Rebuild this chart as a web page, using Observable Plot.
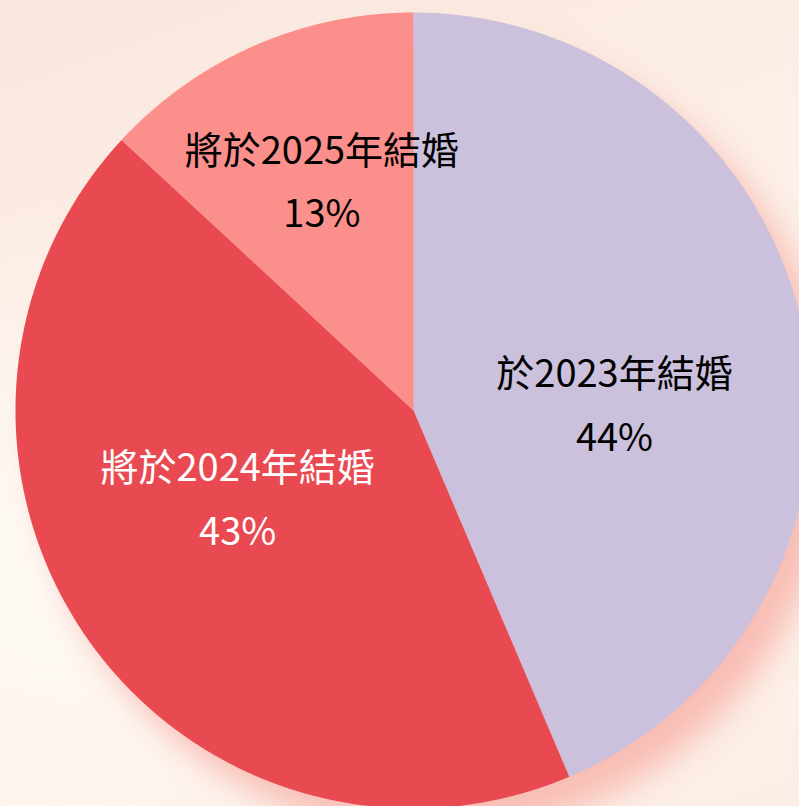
<!DOCTYPE html>
<html>
<head>
<meta charset="utf-8">
<script src="https://cdn.jsdelivr.net/npm/d3@7"></script>
<script src="https://cdn.jsdelivr.net/npm/@observablehq/plot@0.6"></script>
<style>
  html, body { margin: 0; padding: 0; overflow: hidden; }
  body {
    width: 799px; height: 806px;
    background:
      radial-gradient(ellipse at 10% 70%, rgba(255,251,247,0.9) 0%, rgba(255,251,247,0) 45%),
      linear-gradient(160deg, #FAE7DD 0%, #FCEFE7 35%, #FDF2EA 70%, #FCEEE6 100%);
  }
  #chart svg { display: block; background: transparent; }
</style>
</head>
<body>
<div id="chart"></div>
<script>
// ---- data ----
const categories = ["於2023年結婚", "將於2024年結婚", "將於2025年結婚"];
const shares = [43.6, 43.3, 13.1];
const sliceColors = ["#CBC1DC", "#E94A51", "#FB8F8B"];
const labelColors = ["#000000", "#FFFFFF", "#000000"];

// ---- layout config (not data) ----
const W = 799, H = 806;
const CX = 413, CY = 410, R = 398;
const labelNudge = [[6, -28], [-13, 32], [-12, 53]]; // pixel nudges (x right, y up)

const arcs = d3.pie().sort(null).value(d => d)(shares);

// slice polygons computed from pie angles
const slicePts = [];
arcs.forEach((a, i) => {
  const n = Math.max(8, Math.ceil((a.endAngle - a.startAngle) / (Math.PI / 720)));
  slicePts.push({k: i, x: 0, y: 0, c: sliceColors[i]});
  for (let j = 0; j <= n; j++) {
    const t = a.startAngle + (a.endAngle - a.startAngle) * j / n;
    slicePts.push({k: i, x: R * Math.sin(t), y: R * Math.cos(t), c: sliceColors[i]});
  }
  slicePts.push({k: i, x: 0, y: 0, c: sliceColors[i]});
});

const labels = arcs.map((a, i) => {
  const m = (a.startAngle + a.endAngle) / 2;
  return {
    x: (R / 2) * Math.sin(m) + labelNudge[i][0],
    y: (R / 2) * Math.cos(m) + labelNudge[i][1],
    text: categories[i] + "\n" + Math.round(shares[i]) + "%",
    fill: labelColors[i]
  };
});

const chart = Plot.plot({
  width: W,
  height: H,
  margin: 0,
  x: {domain: [-CX, W - CX], axis: null},
  y: {domain: [-(H - CY), CY], axis: null},
  color: {type: "identity"},
  style: {background: "transparent", overflow: "hidden"},
  marks: [
    Plot.dot([{x: 0, y: 0}], {x: "x", y: "y", r: R, fill: "#F8BDB4", stroke: "none", dx: 22, dy: 26}),
    Plot.line(slicePts, {x: "x", y: "y", z: "k", fill: "c", stroke: "none"}),
    Plot.text(labels, {
      x: "x", y: "y", text: "text", fill: "fill",
      fontSize: 38, lineHeight: 1.68,
      fontFamily: "'Noto Sans CJK TC', 'Noto Sans', sans-serif",
      fontWeight: 400
    })
  ]
});

const sh = chart.querySelector('g[aria-label="dot"]');
if (sh) {
  sh.style.filter = "blur(16px)";
}

document.getElementById("chart").appendChild(chart);
</script>
</body>
</html>
